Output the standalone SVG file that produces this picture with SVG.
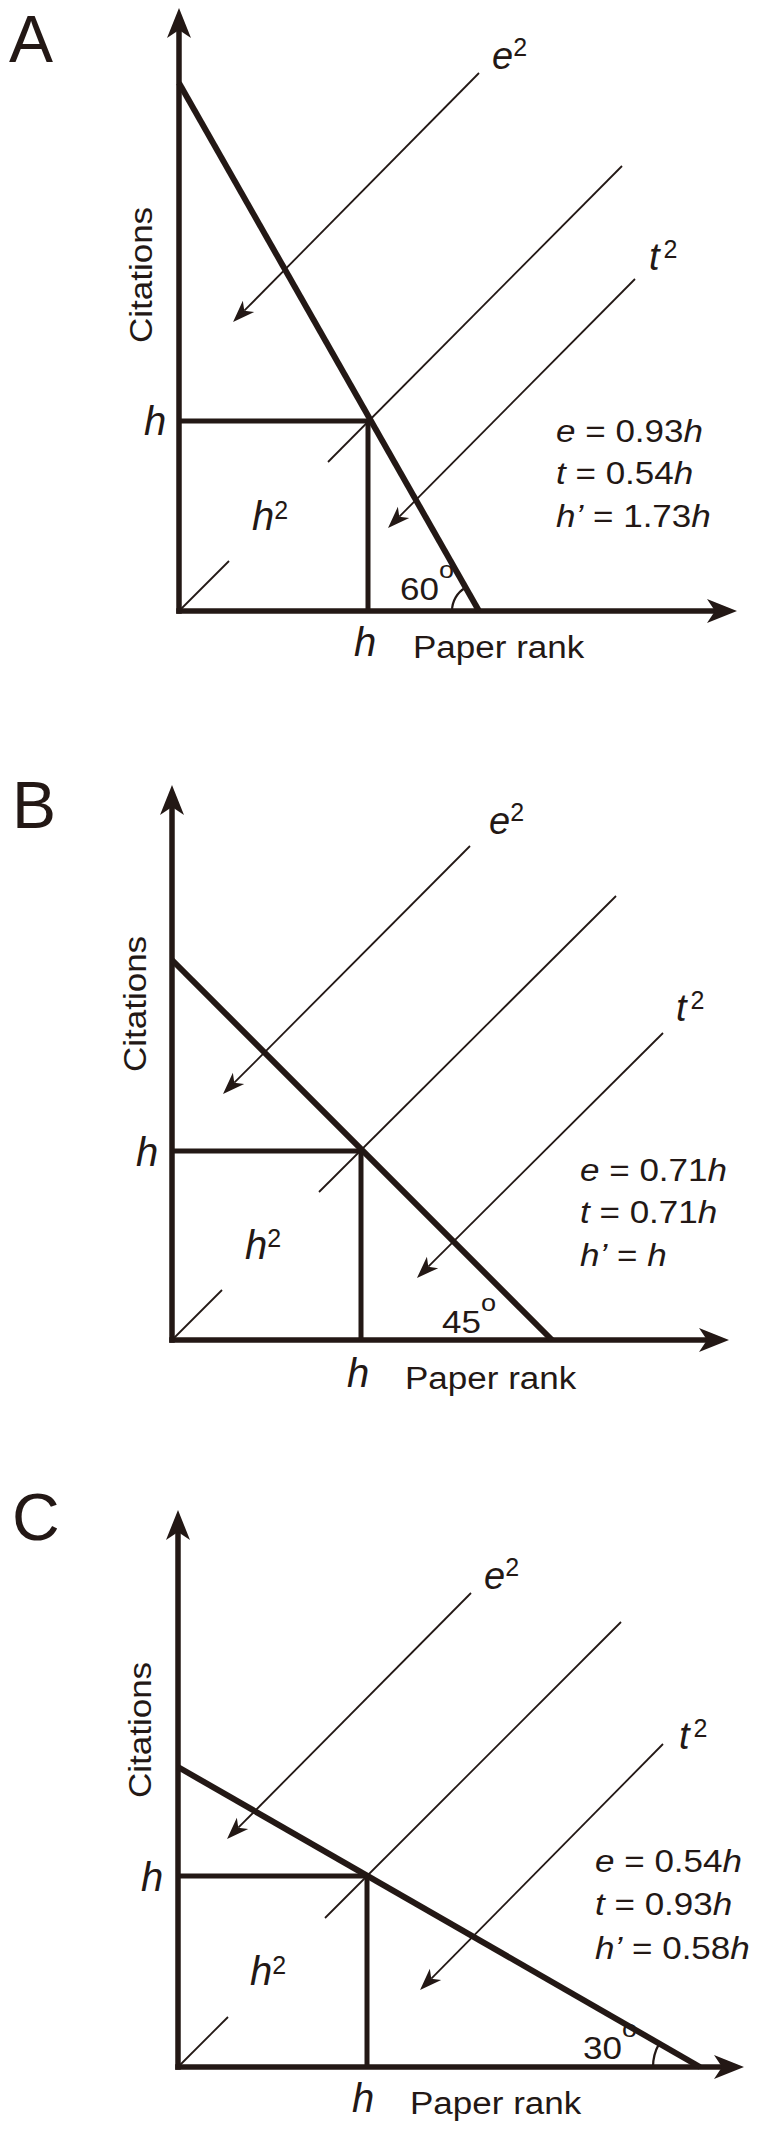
<svg xmlns="http://www.w3.org/2000/svg" width="760" height="2135" viewBox="0 0 760 2135">
<defs>
<style>
.t{font-family:"Liberation Sans",Arial,Helvetica,sans-serif;font-size:31px;fill:#231815}
.hl{font-family:"Liberation Sans",Arial,Helvetica,sans-serif;font-size:40px;font-style:italic;fill:#231815}
.et{font-family:"Liberation Sans",Arial,Helvetica,sans-serif;font-size:38px;font-style:italic;fill:#231815}
.big{font-family:"Liberation Sans",Arial,Helvetica,sans-serif;font-size:66px;fill:#231815}
.i{font-style:italic}
.sup{font-size:25px;font-style:normal}
.deg{font-size:24px}
.axis{stroke:#231815;stroke-width:5.5;fill:none;marker-end:url(#axhead)}
.hyp{stroke:#231815;stroke-width:6;fill:none}
.sq{stroke:#231815;stroke-width:5;fill:none}
.thin{stroke:#231815;stroke-width:1.8;fill:none}
.arr{stroke:#231815;stroke-width:1.8;fill:none;marker-end:url(#thinhead)}
.arc{stroke:#231815;stroke-width:2.2;fill:none}
</style>
<marker id="axhead" markerUnits="userSpaceOnUse" markerWidth="32" markerHeight="26" viewBox="0 0 32 26" refX="8" refY="13" orient="auto">
<path d="M0,1 L30,13 L0,25 L8,13 Z" fill="#231815"/>
</marker>
<marker id="thinhead" markerUnits="userSpaceOnUse" markerWidth="24" markerHeight="18" viewBox="0 0 24 18" refX="6" refY="9" orient="auto">
<path d="M0,1 L22,9 L0,17 L6,9 Z" fill="#231815"/>
</marker>
</defs>
<rect width="760" height="2135" fill="#ffffff"/>

<!-- Panel A -->
<g id="panel-A">
<text class="big" x="9" y="62">A</text>
<g id="A-connectors">
<line class="axis" x1="179" y1="613.75" x2="179" y2="30"/>
<line class="axis" x1="176.25" y1="611" x2="715" y2="611"/>
<line class="hyp" x1="179" y1="83" x2="479" y2="611"/>
<line class="sq" x1="179" y1="421" x2="370" y2="421"/>
<line class="sq" x1="368" y1="419" x2="368" y2="611"/>
<line class="thin" x1="179" y1="611" x2="229" y2="561"/>
<line class="thin" x1="328" y1="462" x2="622" y2="166"/>
<line class="arr" x1="479" y1="73" x2="244.3" y2="310.7"/>
<line class="arr" x1="635" y1="279" x2="399.3" y2="516.7"/>
<path class="arc" d="M452,611 A27,27 0 0 1 465.7,587.5"/>
</g>
<g id="A-labels">
<text class="et" x="492" y="69">e<tspan class="sup" dy="-13">2</tspan></text>
<text class="et" x="649" y="270">t<tspan class="sup" dx="4" dy="-12">2</tspan></text>
<text class="t" text-anchor="middle" transform="translate(152,275) rotate(-90) scale(1.13,1)">Citations</text>
<text class="hl" x="144" y="435">h</text>
<text class="hl" x="252" y="530">h<tspan class="sup" dy="-11">2</tspan></text>
<text class="hl" x="354" y="656">h</text>
<text class="t" transform="translate(413,658) scale(1.13,1)">Paper rank</text>
<text class="t" transform="translate(400,600) scale(1.13,1)">60<tspan class="deg" dy="-22">o</tspan></text>
<text class="t" transform="translate(556,442) scale(1.13,1)"><tspan class="i">e</tspan> = 0.93<tspan class="i">h</tspan></text>
<text class="t" transform="translate(556,484) scale(1.13,1)"><tspan class="i">t</tspan> = 0.54<tspan class="i">h</tspan></text>
<text class="t" transform="translate(556,527) scale(1.13,1)"><tspan class="i">h’</tspan> = 1.73<tspan class="i">h</tspan></text>
</g>
</g>

<!-- Panel B -->
<g id="panel-B">
<text class="big" x="12" y="828">B</text>
<g id="B-connectors">
<line class="axis" x1="172" y1="1342.75" x2="172" y2="807"/>
<line class="axis" x1="169.25" y1="1340" x2="707" y2="1340"/>
<line class="hyp" x1="172" y1="960" x2="552" y2="1340"/>
<line class="sq" x1="172" y1="1151" x2="363" y2="1151"/>
<line class="sq" x1="361" y1="1149" x2="361" y2="1340"/>
<line class="thin" x1="172" y1="1340" x2="222" y2="1290"/>
<line class="thin" x1="319" y1="1192" x2="616" y2="896"/>
<line class="arr" x1="470" y1="846" x2="234.3" y2="1082.7"/>
<line class="arr" x1="663" y1="1033" x2="428.3" y2="1266.7"/>
</g>
<g id="B-labels">
<text class="et" x="489" y="834">e<tspan class="sup" dy="-13">2</tspan></text>
<text class="et" x="676" y="1021">t<tspan class="sup" dx="4" dy="-12">2</tspan></text>
<text class="t" text-anchor="middle" transform="translate(146,1004) rotate(-90) scale(1.13,1)">Citations</text>
<text class="hl" x="136" y="1166">h</text>
<text class="hl" x="245" y="1259">h<tspan class="sup" dy="-12">2</tspan></text>
<text class="hl" x="347" y="1387">h</text>
<text class="t" transform="translate(405,1389) scale(1.13,1)">Paper rank</text>
<text class="t" transform="translate(442,1333) scale(1.13,1)">45<tspan class="deg" dy="-22">o</tspan></text>
<text class="t" transform="translate(580,1181) scale(1.13,1)"><tspan class="i">e</tspan> = 0.71<tspan class="i">h</tspan></text>
<text class="t" transform="translate(580,1223) scale(1.13,1)"><tspan class="i">t</tspan> = 0.71<tspan class="i">h</tspan></text>
<text class="t" transform="translate(580,1266) scale(1.13,1)"><tspan class="i">h’</tspan> = <tspan class="i">h</tspan></text>
</g>
</g>

<!-- Panel C -->
<g id="panel-C">
<text class="big" x="12" y="1540">C</text>
<g id="C-connectors">
<line class="axis" x1="178" y1="2069.75" x2="178" y2="1532"/>
<line class="axis" x1="175.25" y1="2067" x2="722" y2="2067"/>
<line class="hyp" x1="178" y1="1767" x2="700" y2="2067"/>
<line class="sq" x1="178" y1="1876" x2="369" y2="1876"/>
<line class="sq" x1="367" y1="1874" x2="367" y2="2067"/>
<line class="thin" x1="178" y1="2067" x2="228" y2="2017"/>
<line class="thin" x1="325" y1="1918" x2="621" y2="1622"/>
<line class="arr" x1="471" y1="1593" x2="238.3" y2="1827.7"/>
<line class="arr" x1="663" y1="1744" x2="431.3" y2="1978.7"/>
<path class="arc" d="M653,2067 A47,47 0 0 1 659.2,2043.6"/>
</g>
<g id="C-labels">
<text class="et" x="484" y="1589">e<tspan class="sup" dy="-13">2</tspan></text>
<text class="et" x="679" y="1749">t<tspan class="sup" dx="4" dy="-12">2</tspan></text>
<text class="t" text-anchor="middle" transform="translate(151,1730) rotate(-90) scale(1.13,1)">Citations</text>
<text class="hl" x="141" y="1891">h</text>
<text class="hl" x="250" y="1985">h<tspan class="sup" dy="-11">2</tspan></text>
<text class="hl" x="352" y="2112">h</text>
<text class="t" transform="translate(410,2114) scale(1.13,1)">Paper rank</text>
<text class="t" transform="translate(583,2059) scale(1.13,1)">30<tspan class="deg" dy="-22">o</tspan></text>
<text class="t" transform="translate(595,1872) scale(1.13,1)"><tspan class="i">e</tspan> = 0.54<tspan class="i">h</tspan></text>
<text class="t" transform="translate(595,1915) scale(1.13,1)"><tspan class="i">t</tspan> = 0.93<tspan class="i">h</tspan></text>
<text class="t" transform="translate(595,1959) scale(1.13,1)"><tspan class="i">h’</tspan> = 0.58<tspan class="i">h</tspan></text>
</g>
</g>
</svg>
